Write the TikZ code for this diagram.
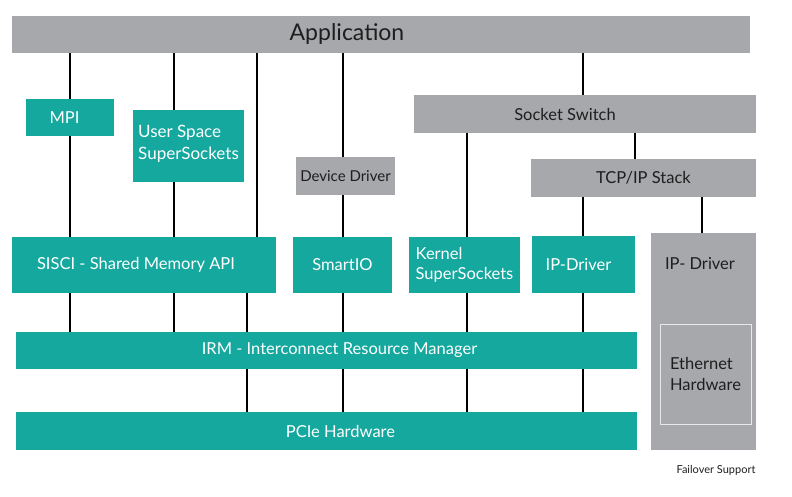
\documentclass[tikz,border=0pt]{standalone}
\usepackage{fontspec}
\setmainfont{Lato}
\definecolor{tealc}{RGB}{20,168,158}
\definecolor{grayc}{RGB}{167,168,172}
\definecolor{txtdark}{RGB}{30,30,30}
\begin{document}
\begin{tikzpicture}[x=1pt,y=-1pt,
  box/.style={rectangle,inner sep=0pt,outer sep=0pt,font=\fontsize{16.5}{21}\selectfont},
  tbox/.style={box,fill=tealc,text=white},
  gbox/.style={box,fill=grayc,text=txtdark},
  conn/.style={line width=1.7pt,black}]
\useasboundingbox (0,0) rectangle (792,497);
% top
\node[gbox,minimum width=738pt,minimum height=37pt,font=\fontsize{23}{27}\selectfont] (app) at (381,34.5) {Application\kern68pt};
\node[tbox,minimum width=88pt,minimum height=37pt] (mpi) at (70,117.5) {MPI\kern11pt};
\node[tbox,minimum width=111pt,minimum height=72pt,align=left,font=\fontsize{17}{22}\selectfont] (usss) at (188.5,146) {User Space\\SuperSockets\vspace{5pt}};
\node[gbox,minimum width=99pt,minimum height=38pt,font=\fontsize{15}{18}\selectfont] (devdrv) at (345.5,176) {Device Driver};
\node[gbox,minimum width=342pt,minimum height=38pt] (sock) at (585,114) {Socket Switch\kern40pt};
\node[gbox,minimum width=225pt,minimum height=38pt] (tcpip) at (643.5,178) {TCP/IP Stack};
% middle
\node[tbox,minimum width=264pt,minimum height=56pt] (sisci) at (144,265) {SISCI - Shared Memory API\kern16pt};
\node[tbox,minimum width=99pt,minimum height=56pt] (smartio) at (342.5,265) {SmartIO};
\node[tbox,minimum width=111pt,minimum height=56pt,align=left,font=\fontsize{16.5}{20}\selectfont] (kernel) at (464.5,265) {Kernel\\SuperSockets};
\node[tbox,minimum width=103pt,minimum height=57pt] (ipdrv) at (583.5,264.5) {IP-Driver\kern10pt};
\node[gbox,minimum width=105pt,minimum height=217pt] (ipgray) at (703.5,341.5) {};
\node[box,text=txtdark] (ipgraylbl) at (700,264) {IP- Driver};
\node[box,draw=white!75!grayc,line width=1pt,minimum width=91pt,minimum height=100pt,align=left,text=txtdark] (eth) at (705.5,374) {Ethernet\\Hardware};
% bottom
\node[tbox,minimum width=621pt,minimum height=37pt] (irm) at (326.5,350.5) {\hspace*{26pt}IRM - Interconnect Resource Manager};
\node[tbox,minimum width=621pt,minimum height=38pt] (pcie) at (326.5,431) {\hspace*{28pt}PCIe Hardware};
\node[font=\fontsize{11}{13}\selectfont,text=txtdark,inner sep=0pt] (fail) at (716,470) {Failover Support};
% x positions
\coordinate (xa) at (70,0);
\coordinate (xb) at (174,0);
\coordinate (xc) at (257,0);
\coordinate (xd) at (247,0);
\coordinate (xe) at (343,0);
\coordinate (xf) at (467,0);
\coordinate (xg) at (583,0);
\coordinate (xh) at (635,0);
\coordinate (xi) at (702,0);
% connectors
\draw[conn] (app.south -| xa) -- (mpi.north -| xa);
\draw[conn] (mpi.south -| xa) -- (sisci.north -| xa);
\draw[conn] (app.south -| xb) -- (usss.north -| xb);
\draw[conn] (usss.south -| xb) -- (sisci.north -| xb);
\draw[conn] (app.south -| xc) -- (sisci.north -| xc);
\draw[conn] (app.south -| xe) -- (devdrv.north -| xe);
\draw[conn] (devdrv.south -| xe) -- (smartio.north -| xe);
\draw[conn] (app.south -| xg) -- (sock.north -| xg);
\draw[conn] (sock.south -| xf) -- (kernel.north -| xf);
\draw[conn] (sock.south -| xh) -- (tcpip.north -| xh);
\draw[conn] (tcpip.south -| xg) -- (ipdrv.north -| xg);
\draw[conn] (tcpip.south -| xi) -- (ipgray.north -| xi);
\draw[conn] (sisci.south -| xa) -- (irm.north -| xa);
\draw[conn] (sisci.south -| xb) -- (irm.north -| xb);
\draw[conn] (sisci.south -| xd) -- (irm.north -| xd);
\draw[conn] (smartio.south -| xe) -- (irm.north -| xe);
\draw[conn] (kernel.south -| xf) -- (irm.north -| xf);
\draw[conn] (ipdrv.south -| xg) -- (irm.north -| xg);
\draw[conn] (irm.south -| xd) -- (pcie.north -| xd);
\draw[conn] (irm.south -| xe) -- (pcie.north -| xe);
\draw[conn] (irm.south -| xf) -- (pcie.north -| xf);
\draw[conn] (irm.south -| xg) -- (pcie.north -| xg);
\end{tikzpicture}
\end{document}
